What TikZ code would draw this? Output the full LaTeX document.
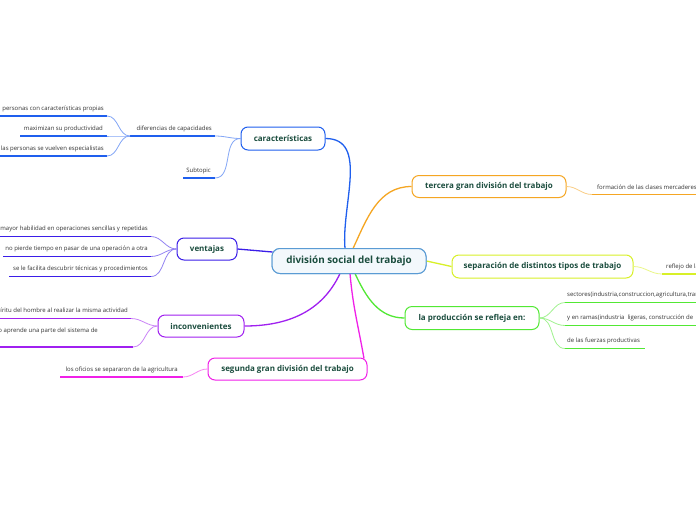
\documentclass[tikz,border=0pt]{standalone}
\usepackage{fontspec}
\setmainfont{Open Sans}
\definecolor{txt}{HTML}{1B4D3E}
\definecolor{subtxt}{HTML}{333333}
\definecolor{cblue}{HTML}{5A9BD4}
\definecolor{cfill}{HTML}{F3F8FC}
\definecolor{kblue}{HTML}{1F5FEE}
\definecolor{vind}{HTML}{3B1EE8}
\definecolor{ipur}{HTML}{A020F0}
\definecolor{smag}{HTML}{F020E8}
\definecolor{torg}{HTML}{F5A623}
\definecolor{sylw}{HTML}{D8F028}
\definecolor{pgrn}{HTML}{52E834}
\tikzset{
  topic/.style={draw=#1, line width=1pt, rounded corners=7pt, fill=white, text=txt,
    font=\bfseries\fontsize{8}{9.5}\selectfont, inner sep=0pt},
  central/.style={draw=cblue, line width=1pt, rounded corners=8pt, fill=cfill, text=txt,
    font=\bfseries\fontsize{9.9}{12}\selectfont, inner sep=0pt},
  subtext/.style={text=subtxt, font=\fontsize{6}{7.2}\selectfont, inner sep=0pt},
  uline/.style={draw=#1, line width=1.8pt},
  mainlink/.style={draw=#1, line width=1.3pt},
  sublink/.style={draw=#1!55, line width=0.8pt}
}
\begin{document}
\begin{tikzpicture}[x=1pt,y=-1pt]
\useasboundingbox (0,0) rectangle (696,520);
\clip (0,0) rectangle (696,520);
\fill[white] (0,0) rectangle (696,520);

% main nodes
\node[central, minimum width=154pt, minimum height=25pt] (c) at (349,261) {división social del trabajo};
\node[topic=kblue, minimum width=84pt, minimum height=23pt] (kar) at (283,138.5) {características};
\node[topic=vind, minimum width=60pt, minimum height=22pt] (ven) at (207,249) {ventajas};
\node[topic=ipur, minimum width=86pt, minimum height=22pt] (inc) at (201,326) {inconvenientes};
\node[topic=smag, minimum width=159pt, minimum height=22pt] (seg) at (287.5,369) {segunda gran división del trabajo};
\node[topic=torg, minimum width=154pt, minimum height=22pt] (ter) at (489,186.5) {tercera gran división del trabajo};
\node[topic=sylw, minimum width=181pt, minimum height=23pt] (sep) at (542.5,266.5) {separación de distintos tipos de trabajo};
\node[topic=pgrn, minimum width=134pt, minimum height=23pt] (pro) at (472,318) {la producción se refleja en:};

% central links
\coordinate (cN1) at (345,248.5);
\coordinate (cN2) at (353,248.5);
\coordinate (cS1) at (340,273.5);
\coordinate (cS2) at (350,273.5);
\coordinate (cS3) at (355,273.5);
\coordinate (cW) at (272.5,252);
\coordinate (segNE) at (364,358.5);
\path[mainlink=kblue] (cN1) to[out=95,in=0] (kar.east);
\path[mainlink=torg] (cN2) to[out=65,in=180] (ter.west);
\path[mainlink=vind] (ven.east) -- (cW);
\path[mainlink=ipur] (cS1) to[out=-115,in=0] (inc.east);
\path[mainlink=smag] (cS2) to[out=-85,in=100] (segNE);
\path[mainlink=pgrn] (cS3) to[out=-65,in=180] (pro.west);
\path[mainlink=sylw] (c.east) -- (sep.west);

% características branch
\coordinate (difL) at (130,136); \coordinate (difR) at (215,136);
\path[uline=kblue] (difL) -- (difR);
\node[subtext, anchor=east] (dif) at (212,128.5) {diferencias de capacidades};
\coordinate (subL) at (183,178); \coordinate (subR) at (215,178);
\path[uline=kblue] (subL) -- (subR);
\node[subtext, anchor=east] (sbt) at (211,171) {Subtopic};
\coordinate (k1L) at (-5,116); \coordinate (k1R) at (107,116);
\path[uline=kblue] (k1L) -- (k1R);
\node[subtext, anchor=east] (k1) at (104,108.5) {personas con características propias};
\coordinate (k2L) at (20,136); \coordinate (k2R) at (107,136);
\path[uline=kblue] (k2L) -- (k2R);
\node[subtext, anchor=east] (k2) at (103,128.5) {maximizan su productividad};
\coordinate (k3L) at (-5,156); \coordinate (k3R) at (107,156);
\path[uline=kblue] (k3L) -- (k3R);
\node[subtext, anchor=east] (k3) at (104,148.5) {las personas se vuelven especialistas};
\path[sublink=kblue] (kar.west) to[out=180,in=0] (difR);
\path[sublink=kblue] (kar.west) to[out=180,in=0] (subR);
\path[sublink=kblue] (difL) to[out=180,in=0] (k1R);
\path[sublink=kblue] (difL) to[out=180,in=0] (k2R);
\path[sublink=kblue] (difL) to[out=180,in=0] (k3R);

% ventajas branch
\coordinate (v1L) at (-5,236.5); \coordinate (v1R) at (151,236.5);
\path[uline=vind] (v1L) -- (v1R);
\node[subtext, anchor=east] (v1) at (148,229) {mayor habilidad en operaciones sencillas y repetidas};
\coordinate (v2L) at (3,256.5); \coordinate (v2R) at (151,256.5);
\path[uline=vind] (v2L) -- (v2R);
\node[subtext, anchor=east] (v2) at (148,249) {no pierde tiempo en pasar de una operación a otra};
\coordinate (v3L) at (9,276.5); \coordinate (v3R) at (151,276.5);
\path[uline=vind] (v3L) -- (v3R);
\node[subtext, anchor=east] (v3) at (148,269) {se le facilita descubrir técnicas y procedimientos};
\path[sublink=vind] (ven.west) to[out=180,in=0] (v1R);
\path[sublink=vind] (ven.west) to[out=180,in=0] (v2R);
\path[sublink=vind] (ven.west) to[out=180,in=0] (v3R);

% inconvenientes branch
\coordinate (i1L) at (-5,318.5); \coordinate (i1R) at (131,318.5);
\path[uline=ipur] (i1L) -- (i1R);
\node[subtext, anchor=east] (i1) at (128,311) {espíritu del hombre al realizar la misma actividad};
\coordinate (i2L) at (-5,347); \coordinate (i2R) at (133,347);
\path[uline=ipur] (i2L) -- (i2R);
\node[subtext, anchor=east] (i2) at (98,331) {solo aprende una parte del sistema de};
\path[sublink=ipur] (inc.west) to[out=180,in=0] (i1R);
\path[sublink=ipur] (inc.west) to[out=180,in=0] (i2R);

% segunda branch
\coordinate (s1L) at (60,377); \coordinate (s1R) at (183,377);
\path[uline=smag] (s1L) -- (s1R);
\node[subtext, anchor=east] (s1) at (178,369.5) {los oficios se separaron de la agricultura};
\path[sublink=smag] (seg.west) to[out=180,in=0] (s1R);

% tercera branch
\coordinate (t1L) at (592,194.5); \coordinate (t1R) at (700,194.5);
\path[uline=torg] (t1L) -- (t1R);
\node[subtext, anchor=west] (t1) at (597,187) {formación de las clases mercaderes};
\path[sublink=torg] (ter.east) to[out=0,in=180] (t1L);

% separación branch
\coordinate (r1L) at (662,274); \coordinate (r1R) at (700,274);
\path[uline=sylw] (r1L) -- (r1R);
\node[subtext, anchor=west] (r1) at (666,266.5) {reflejo de la división};
\path[sublink=sylw] (sep.east) to[out=0,in=180] (r1L);

% producción branch
\coordinate (p1L) at (565,302.5); \coordinate (p1R) at (700,302.5);
\path[uline=pgrn] (p1L) -- (p1R);
\node[subtext, anchor=west] (p1) at (567,295) {sectores(industria,construccion,agricultura,transporte};
\coordinate (p2L) at (565,325.5); \coordinate (p2R) at (700,325.5);
\path[uline=pgrn] (p2L) -- (p2R);
\node[subtext, anchor=west] (p2) at (567,318) {y en ramas(industria\ \ ligeras, construcción de};
\coordinate (p3L) at (565,348.5); \coordinate (p3R) at (645,348.5);
\path[uline=pgrn] (p3L) -- (p3R);
\node[subtext, anchor=west] (p3) at (567,341) {de las fuerzas productivas};
\path[sublink=pgrn] (pro.east) to[out=0,in=180] (p1L);
\path[sublink=pgrn] (pro.east) to[out=0,in=180] (p2L);
\path[sublink=pgrn] (pro.east) to[out=0,in=180] (p3L);

% redraw central node on top of its links
\node[central, minimum width=154pt, minimum height=25pt] at (c) {división social del trabajo};
\end{tikzpicture}
\end{document}
